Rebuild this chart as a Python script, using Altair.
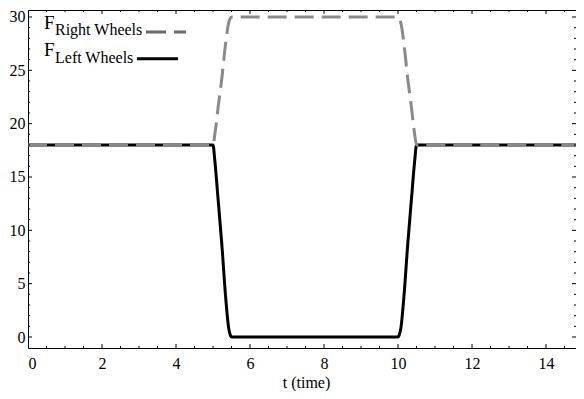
import altair as alt
import pandas as pd

# ---- data ----
time_pts = [0, 5.0, 5.05, 5.14, 5.24, 5.34, 5.42, 5.47, 5.5,
            10.0, 10.03, 10.08, 10.16, 10.26, 10.36, 10.45, 10.5, 15]
right_wheels = [18, 18, 19.0, 21.6, 24.3, 27.5, 29.4, 29.9, 30,
                30, 29.9, 29.4, 27.5, 24.3, 21.6, 19.0, 18, 18]
left_wheels = [18, 18, 16.5, 12.8, 8.6, 3.8, 0.9, 0.15, 0,
               0, 0.15, 0.9, 3.8, 8.6, 12.8, 16.5, 18, 18]

x_major = [0, 2, 4, 6, 8, 10, 12, 14]
x_minor = [0.5, 1, 1.5, 2.5, 3, 3.5, 4.5, 5, 5.5, 6.5, 7, 7.5, 8.5, 9, 9.5,
           10.5, 11, 11.5, 12.5, 13, 13.5, 14.5]
y_major = [0, 5, 10, 15, 20, 25, 30]
y_minor = [v for v in range(1, 31) if v % 5 != 0]

W, H = 548, 338
FONT = "Liberation Serif"

df = pd.DataFrame({"t": time_pts, "right": right_wheels, "left": left_wheels})

xs = alt.Scale(domain=[0, 14.81], nice=False, zero=False)
ys = alt.Scale(domain=[-1.031, 30.656], nice=False, zero=False)

base = alt.Chart(df)

left_line = base.mark_line(color="black", strokeWidth=3, interpolate="monotone", clip=True).encode(
    x=alt.X("t:Q", scale=xs,
            axis=alt.Axis(title="t (time)", values=x_major, ticks=False, domain=False, grid=False,
                          labelFont=FONT, labelFontSize=16, labelColor="black", labelPadding=7,
                          titleFont=FONT, titleFontSize=16, titleFontWeight="normal",
                          titleColor="black", titleX=278, titleY=39, titleAlign="center",
                          titleBaseline="alphabetic")),
    y=alt.Y("left:Q", scale=ys,
            axis=alt.Axis(title=None, values=y_major, ticks=False, domain=False, grid=False,
                          labelFont=FONT, labelFontSize=16, labelColor="black", labelPadding=3)),
)
right_line = base.mark_line(color="#8a8a8a", strokeWidth=3, strokeDash=[19, 8],
                            interpolate="monotone", clip=True).encode(
    x=alt.X("t:Q", scale=xs), y=alt.Y("right:Q", scale=ys)
)

dfxM = pd.DataFrame({"v": x_major})
dfxm = pd.DataFrame({"v": x_minor})
dfyM = pd.DataFrame({"v": y_major})
dfym = pd.DataFrame({"v": y_minor})

def xticks(d, ln):
    b = alt.Chart(d).mark_rule(color="black", strokeWidth=1, clip=True)
    bottom = b.encode(x=alt.X("v:Q", scale=xs), y=alt.value(H), y2=alt.value(H - ln))
    top = b.encode(x=alt.X("v:Q", scale=xs), y=alt.value(0), y2=alt.value(ln))
    return [bottom, top]

def yticks(d, ln):
    b = alt.Chart(d).mark_rule(color="black", strokeWidth=1)
    left = b.encode(y=alt.Y("v:Q", scale=ys), x=alt.value(0), x2=alt.value(ln))
    right = b.encode(y=alt.Y("v:Q", scale=ys), x=alt.value(W), x2=alt.value(W - ln))
    return [left, right]

one = alt.Data(values=[{}])

def txt(s, x, y, size):
    return alt.Chart(one).mark_text(font=FONT, fontSize=size, align="left", baseline="alphabetic",
                                    color="black").encode(
        x=alt.value(x), y=alt.value(y), text=alt.value(s))

legend = [
    txt("F", 16, 19, 19),
    txt("Right Wheels", 27, 25, 16),
    alt.Chart(one).mark_rule(color="#6a6a6a", strokeWidth=3, strokeDash=[20, 8]).encode(
        x=alt.value(118), x2=alt.value(158), y=alt.value(22)),
    txt("F", 16, 46, 19),
    txt("Left Wheels", 27, 53, 16),
    alt.Chart(one).mark_rule(color="black", strokeWidth=3).encode(
        x=alt.value(109), x2=alt.value(150), y=alt.value(48.7)),
]

chart = alt.layer(
    left_line, right_line,
    *xticks(dfxM, 4), *xticks(dfxm, 2), *yticks(dfyM, 4), *yticks(dfym, 2),
    *legend,
).properties(
    width=W, height=H,
    autosize=alt.AutoSizeParams(type="none"),
    padding={"left": 20, "top": 2, "right": 0, "bottom": 43},
    background="white",
).configure_view(stroke="black", strokeWidth=1)

chart.save("out.html", embed_options={"renderer": "svg", "actions": False})
